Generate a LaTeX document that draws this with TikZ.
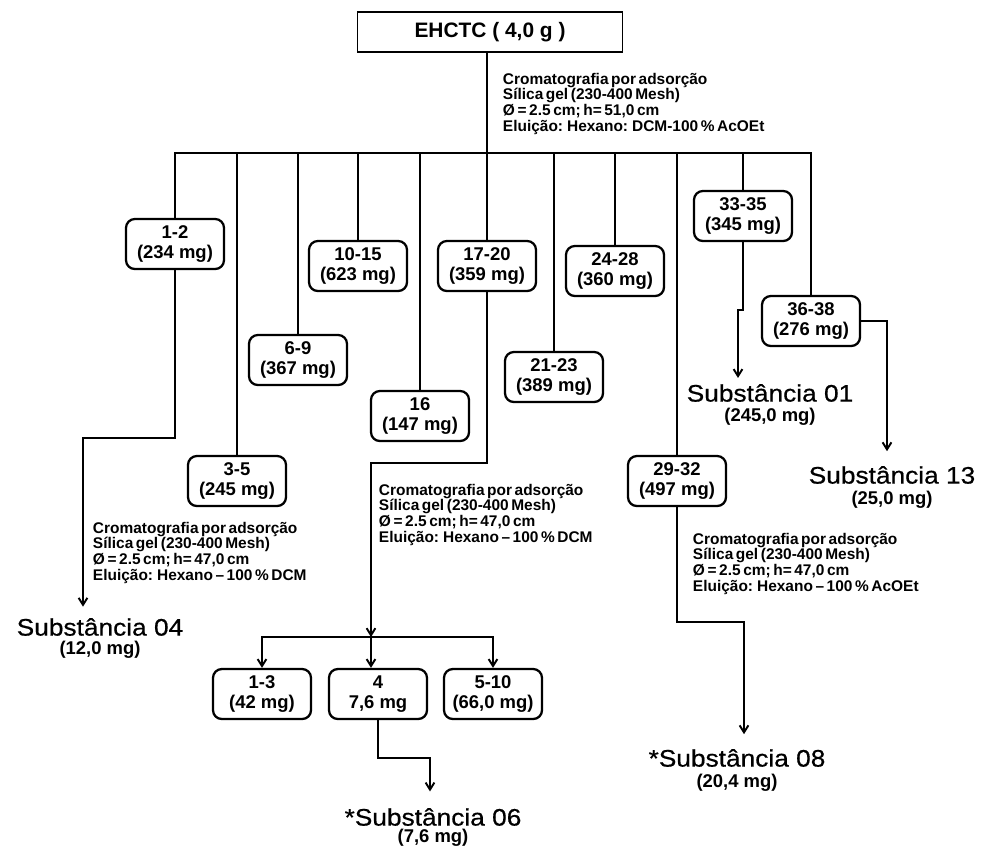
\documentclass[tikz,border=0pt]{standalone}
\usepackage{fontspec}
\setmainfont{Liberation Sans}
\newfontfamily\largo[FakeStretch=1.1,FakeBold=0.6]{Liberation Sans}
\newfontfamily\estreita[WordSpace=0.6]{Liberation Sans}
\usetikzlibrary{arrows.meta}

\begin{document}
\begin{tikzpicture}[x=0.02cm, y=-0.02cm, line width=1.1pt,
	caixa/.style={draw, rounded corners=5pt, line width=1.3pt, minimum width=1.96cm, minimum height=1cm, align=center, inner sep=1pt, font=\bfseries\fontsize{10.5}{11}\selectfont},
	crom/.style={anchor=north west, align=left, inner sep=0pt, font=\estreita\bfseries\fontsize{8.8}{8.9}\selectfont},
	subst/.style={inner sep=1pt, font=\largo\fontsize{13.6}{16}\selectfont},
	massa/.style={inner sep=1pt, font=\bfseries\fontsize{10.5}{12}\selectfont},
	seta/.style={-{Straight Barb[length=4pt,width=5pt]}}]
	% Paths, nodes and wires:
	\useasboundingbox (0,0) rectangle (983,850);
	\node[draw, minimum width=5.3cm, minimum height=0.8cm, font=\bfseries\fontsize{11.9}{14}\selectfont] (ehctc) at (490,32){EHCTC ( 4,0 g )};
	\coordinate (barra) at (487,153);
	\node[crom] (crom1) at (502,72){Cromatografia por adsorção\\Sílica gel (230-400 Mesh)\\Ø = 2.5 cm; h= 51,0 cm\\Eluição: Hexano: DCM-100 \% AcOEt};
	% fractions of the first column
	\node[caixa] (b12) at (175,244){1-2\\(234 mg)};
	\node[caixa] (b35) at (237,481){3-5\\(245 mg)};
	\node[caixa] (b69) at (298,360){6-9\\(367 mg)};
	\node[caixa] (b1015) at (358,266){10-15\\(623 mg)};
	\node[caixa] (b16) at (420,416){16\\(147 mg)};
	\node[caixa] (b1720) at (487,266){17-20\\(359 mg)};
	\node[caixa] (b2123) at (554,377){21-23\\(389 mg)};
	\node[caixa] (b2428) at (615,271){24-28\\(360 mg)};
	\node[caixa] (b2932) at (677,481){29-32\\(497 mg)};
	\node[caixa] (b3335) at (743,216){33-35\\(345 mg)};
	\node[caixa] (b3638) at (811,321){36-38\\(276 mg)};
	\draw (ehctc.south -| barra) -- (barra);
	\foreach \f in {b12, b35, b69, b1015, b16, b1720, b2123, b2428, b2932, b3335, b3638}
		\draw (\f.north) |- (barra);
	% 1-2
	\node[subst] (s04) at (100,627){Substância 04};
	\node[massa] (m04) at (100,650){(12,0 mg)};
	\node[crom] (crom2) at (92,521){Cromatografia por adsorção\\Sílica gel (230-400 Mesh)\\Ø = 2.5 cm; h= 47,0 cm\\Eluição: Hexano – 100 \% DCM};
	\coordinate (dobra04) at (83,438);
	\draw[seta, shorten >=5pt] (b12.south) |- (dobra04) -- (dobra04 |- s04.north);
	% 17-20
	\node[crom] (crom4) at (378,483){Cromatografia por adsorção\\Sílica gel (230-400 Mesh)\\Ø = 2.5 cm; h= 47,0 cm\\Eluição: Hexano – 100 \% DCM};
	\node[caixa] (b13) at (262,694){1-3\\(42 mg)};
	\node[caixa] (b4) at (378,694){4\\7,6 mg};
	\node[caixa] (b510) at (493,694){5-10\\(66,0 mg)};
	\coordinate (dobra17) at (371,463);
	\coordinate (ramo) at (371,637);
	\draw[seta] (b1720.south) |- (dobra17) -- (ramo);
	\draw[seta] (ramo) -| (b13.north);
	\draw[seta] (ramo) -- (ramo |- b4.north);
	\draw[seta] (ramo) -| (b510.north);
	\node[subst] (s06) at (433,817){*Substância 06};
	\node[massa] (m06) at (433,838){(7,6 mg)};
	\coordinate (dobra06) at (430,758);
	\draw[seta, shorten >=8pt] (b4.south) |- (dobra06) -- (dobra06 |- s06.north);
	% 29-32
	\node[crom] (crom3) at (692,532){Cromatografia por adsorção\\Sílica gel (230-400 Mesh)\\Ø = 2.5 cm; h= 47,0 cm\\Eluição: Hexano – 100 \% AcOEt};
	\node[subst] (s08) at (737,758){*Substância 08};
	\node[massa] (m08) at (737,783){(20,4 mg)};
	\coordinate (dobra08) at (744,622);
	\draw[seta, shorten >=7pt] (b2932.south) |- (dobra08) -- (dobra08 |- s08.north);
	% 33-35 and 36-38
	\node[subst] (s01) at (770,393){Substância 01};
	\node[massa] (m01) at (770,417){(245,0 mg)};
	\coordinate (dobra01) at (738,310);
	\draw[seta, shorten >=2pt] (b3335.south) |- (dobra01) -- (dobra01 |- s01.north);
	\node[subst] (s13) at (892,475){Substância 13};
	\node[massa] (m13) at (892,500){(25,0 mg)};
	\coordinate (dobra13) at (887,321);
	\draw[seta, shorten >=7pt] (b3638.east) -- (dobra13) -- (dobra13 |- s13.north);
\end{tikzpicture}
\end{document}
